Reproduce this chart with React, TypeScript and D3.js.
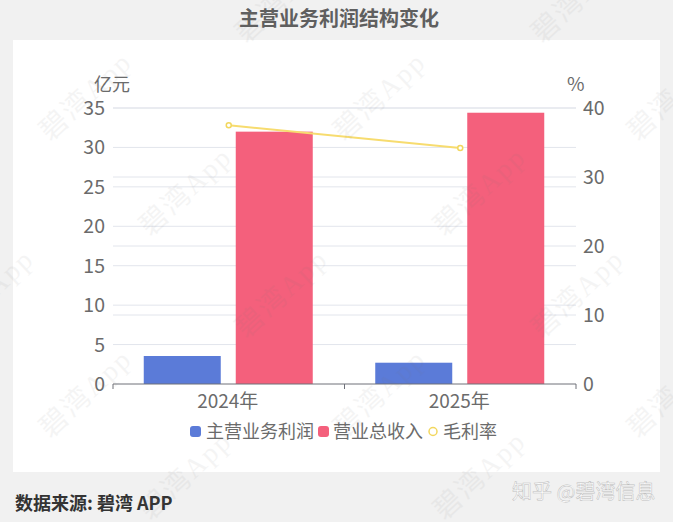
import * as d3 from 'd3';

const categories = ['2024年', '2025年'];
const profit = [3.55, 2.7];
const revenue = [32.0, 34.4];
const margin_rate = [37.5, 34.2];
const leftTicks = [0, 5, 10, 15, 20, 25, 30, 35];
const rightTicks = [0, 10, 20, 30, 40];

const width = 673;
const height = 522;
const plot = { left: 113, right: 576, top: 108, bottom: 384 };
const font = '"Noto Sans CJK SC", "Noto Sans", sans-serif';
const textColor = '#6b6b6b';

// watermark centres, these sit on a skewed lattice across the whole image
const watermarks = [
    [92, 103], [386, 103], [680, 103],
    [192, 198], [486, 198],
    [-6, 300], [288, 300], [584, 300],
    [92, 400], [386, 400], [680, 400],
    [192, 482], [486, 482],
    [288, 5], [584, 5],
];

const x0 = d3
    .scaleBand()
    .domain(categories)
    .range([plot.left, plot.right]);
const barWidth = 77;
const barGap = 15;
const yLeft = d3.scaleLinear().domain([0, 35]).range([plot.bottom, plot.top]);
const yRight = d3.scaleLinear().domain([0, 40]).range([plot.bottom, plot.top]);

const line = d3
    .line<number>()
    .x((_, i) => (x0(categories[i]) ?? 0) + x0.bandwidth() / 2)
    .y(d => yRight(d));

const gridYs = [...leftTicks.map(t => yLeft(t)), ...rightTicks.map(t => yRight(t))].filter(
    y => y < plot.bottom
);

const App = () => {
    const axisTicks = [plot.left, (plot.left + plot.right) / 2, plot.right];
    return (
        <svg
            width={width}
            height={height}
            style={{ position: 'absolute', left: 0, top: 0, fontFamily: font }}
        >
            <rect width={width} height={height} fill="#f1f1f1" />
            <rect x={13} y={40} width={647} height={432} fill="#ffffff" />

            <text x={339} y={26} textAnchor="middle" fontSize={20} fontWeight={700} fill="#5f5f5f">
                主营业务利润结构变化
            </text>

            {gridYs.map((y, i) => (
                <line key={i} x1={plot.left} x2={plot.right} y1={y} y2={y} stroke="#e2e5ec" strokeWidth={1} />
            ))}

            {categories.map((c, i) => {
                const mid = (x0(c) ?? 0) + x0.bandwidth() / 2;
                return (
                    <g key={c}>
                        <rect
                            x={mid - barGap / 2 - barWidth - 0.5}
                            y={yLeft(profit[i])}
                            width={barWidth}
                            height={plot.bottom - yLeft(profit[i])}
                            fill="#5b7bd8"
                        />
                        <rect
                            x={mid + barGap / 2 - 0.5}
                            y={yLeft(revenue[i])}
                            width={barWidth}
                            height={plot.bottom - yLeft(revenue[i])}
                            fill="#f4607c"
                        />
                        <text x={mid - 1} y={408} textAnchor="middle" fontSize={19} fill={textColor}>
                            {c}
                        </text>
                    </g>
                );
            })}

            <path d={line(margin_rate) ?? ''} fill="none" stroke="#f7dc6f" strokeWidth={2} />
            {margin_rate.map((d, i) => (
                <circle
                    key={i}
                    cx={(x0(categories[i]) ?? 0) + x0.bandwidth() / 2}
                    cy={yRight(d)}
                    r={2.5}
                    fill="#ffffff"
                    stroke="#f2d75e"
                    strokeWidth={1.5}
                />
            ))}

            <line x1={plot.left} x2={plot.right} y1={plot.bottom} y2={plot.bottom} stroke="#6e7079" />
            {axisTicks.map(x => (
                <line key={x} x1={x} x2={x} y1={plot.bottom} y2={plot.bottom + 5} stroke="#6e7079" />
            ))}

            {leftTicks.map(t => (
                <text key={t} x={105} y={yLeft(t) + 7} textAnchor="end" fontSize={19.5} fill={textColor}>
                    {t}
                </text>
            ))}
            {rightTicks.map(t => (
                <text key={t} x={583} y={yRight(t) + 7} fontSize={19.5} fill={textColor}>
                    {t}
                </text>
            ))}
            <text x={94} y={91} fontSize={18} fill={textColor}>亿元</text>
            <text x={567} y={91} fontSize={19} fill={textColor}>%</text>

            {/* legend */}
            <rect x={190} y={426} width={11} height={11} rx={3} fill="#5b7bd8" />
            <text x={206} y={438} fontSize={18} fill={textColor}>主营业务利润</text>
            <rect x={318} y={426} width={11} height={11} rx={3} fill="#f4607c" />
            <text x={333} y={438} fontSize={18} fill={textColor}>营业总收入</text>
            <circle cx={433} cy={431.5} r={4} fill="#ffffff" stroke="#f2d75e" strokeWidth={1.5} />
            <text x={443} y={438} fontSize={18} fill={textColor}>毛利率</text>

            <text x={15} y={510} fontSize={18} fontWeight={700} fill="#333333">数据来源: 碧湾 APP</text>
            <text x={512} y={499} fontSize={20} fill="#ffffff" stroke="#bdbdbd" strokeWidth={0.5}>知乎 @碧湾信息</text>

            {watermarks.map(([cx, cy], i) => (
                <text
                    key={i}
                    x={cx}
                    y={cy}
                    textAnchor="middle"
                    fontSize={28}
                    fontFamily="'Liberation Serif', 'Noto Sans CJK SC', serif"
                    fill="#777777"
                    opacity={0.07}
                    letterSpacing={2}
                    transform={`rotate(-43 ${cx} ${cy})`}
                >
                    碧湾App
                </text>
            ))}
        </svg>
    );
};

export default App;
